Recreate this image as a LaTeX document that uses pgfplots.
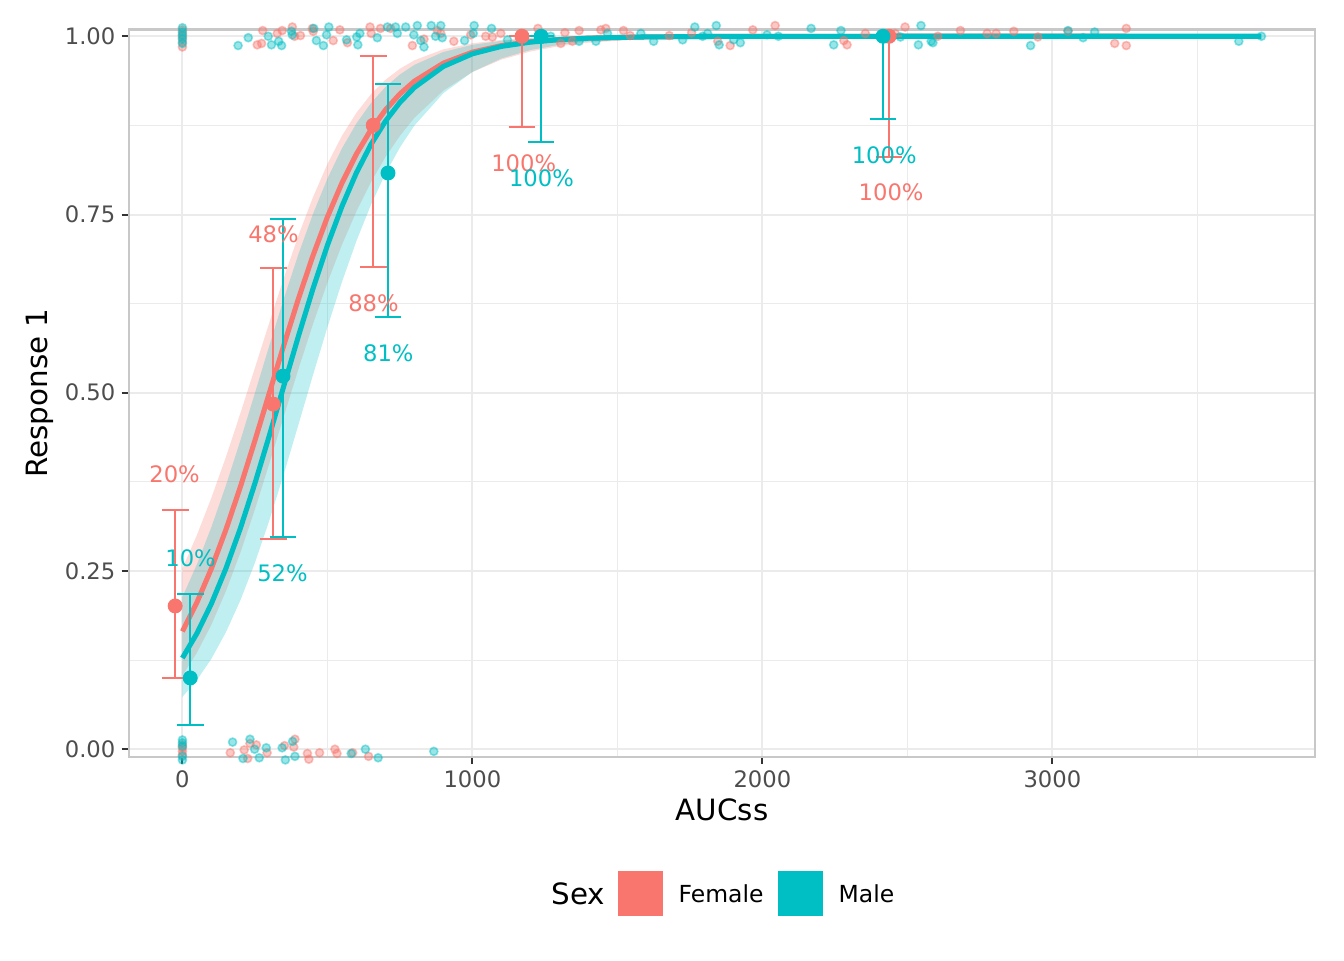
\documentclass[border=0pt]{standalone}
\usepackage{pgfplots}
\pgfplotsset{compat=1.18}
\usepackage{pgfplotstable}
\usepgfplotslibrary{fillbetween}
\usepackage{fontspec}
\setmainfont{DejaVu Sans}
\definecolor{fem}{HTML}{F8766D}
\definecolor{mal}{HTML}{00BFC4}
\definecolor{gridmaj}{HTML}{EBEBEB}
\definecolor{bord}{HTML}{C8C8C8}
\definecolor{tickc}{HTML}{333333}
\definecolor{labc}{HTML}{4D4D4D}

\pgfplotstableread{
x p lo hi
0 0.1652 0.1034 0.2535
50 0.2059 0.1353 0.3005
100 0.2535 0.1747 0.3527
150 0.3079 0.2217 0.4100
200 0.3682 0.2759 0.4713
250 0.4329 0.3363 0.5349
300 0.5000 0.4011 0.5989
350 0.5671 0.4675 0.6615
400 0.6318 0.5332 0.7205
450 0.6921 0.5960 0.7740
500 0.7465 0.6544 0.8208
550 0.7941 0.7074 0.8603
600 0.8348 0.7544 0.8926
650 0.8688 0.7953 0.9186
700 0.8966 0.8305 0.9389
750 0.9191 0.8604 0.9544
800 0.9370 0.8856 0.9663
900 0.9623 0.9239 0.9817
1000 0.9777 0.9498 0.9902
1100 0.9869 0.9672 0.9948
1200 0.9923 0.9786 0.9973
1300 0.9955 0.9861 0.9986
1400 0.9974 0.9910 0.9993
1600 0.9991 0.9962 0.9998
1800 0.9997 0.9984 1.0000
2000 0.9999 0.9993 1.0000
2500 1.0000 0.9999 1.0000
3255 1.0000 1.0000 1.0000
}\femfit

\pgfplotstableread{
x p lo hi
0 0.1279 0.0734 0.2135
50 0.1625 0.0970 0.2594
100 0.2042 0.1270 0.3117
150 0.2535 0.1641 0.3700
200 0.3100 0.2090 0.4332
250 0.3729 0.2615 0.4995
300 0.4403 0.3212 0.5666
350 0.5100 0.3865 0.6323
400 0.5793 0.4551 0.6943
450 0.6457 0.5245 0.7506
500 0.7068 0.5919 0.8003
550 0.7613 0.6552 0.8426
600 0.8085 0.7128 0.8777
650 0.8481 0.7635 0.9062
700 0.8808 0.8072 0.9288
750 0.9072 0.8441 0.9464
800 0.9282 0.8748 0.9599
900 0.9577 0.9203 0.9780
1000 0.9754 0.9500 0.9880
1100 0.9858 0.9689 0.9936
1200 0.9918 0.9807 0.9970
1300 0.9953 0.9880 0.9986
1400 0.9973 0.9926 0.9994
1600 0.9991 0.9971 0.9999
1800 0.9997 0.9989 1.0000
2000 0.9999 0.9996 1.0000
2500 1.0000 1.0000 1.0000
3721 1.0000 1.0000 1.0000
}\malfit

\begin{document}
\begin{tikzpicture}
\path (-48.4pt,-76.24pt) rectangle (455.6pt,283.76pt);
\begin{axis}[
  at={(0,0)}, anchor=south west,
  scale only axis, width=444.75pt, height=272.7pt,
  xmin=-184, xmax=3906, ymin=-0.0105, ymax=1.0095,
  clip=false,
  xtick={0,1000,2000,3000}, xticklabels={0,1000,2000,3000},
  ytick={0,0.25,0.5,0.75,1}, yticklabels={0.00,0.25,0.50,0.75,1.00},
  minor xtick={500,1500,2500,3500},
  minor ytick={0.125,0.375,0.625,0.875},
  grid=both,
  major grid style={gridmaj, line width=0.75pt},
  minor grid style={gridmaj, line width=0.4pt},
  tick align=outside, major tick length=2.75pt, minor tick length=0pt,
  tick pos=left,
  tick style={tickc, line width=0.75pt},
  axis line style={bord, line width=0.9pt},
  ticklabel style={font=\fontsize{8.5}{10}\selectfont, text=labc, inner sep=0pt},
  xticklabel style={yshift=-2.4pt},
  yticklabel style={xshift=-2.2pt},
  /pgf/number format/assume math mode=true,
]
% ribbons
\addplot[name path=fu, draw=none, forget plot] table[x=x,y=hi]{\femfit};
\addplot[name path=fl, draw=none, forget plot] table[x=x,y=lo]{\femfit};
\addplot[fill=fem, fill opacity=0.25, draw=none, forget plot] fill between[of=fu and fl];
\addplot[name path=mu, draw=none, forget plot] table[x=x,y=hi]{\malfit};
\addplot[name path=ml, draw=none, forget plot] table[x=x,y=lo]{\malfit};
\addplot[fill=mal, fill opacity=0.25, draw=none, forget plot] fill between[of=mu and ml];
% fitted lines
\addplot[fem, line width=1.9pt, forget plot] table[x=x,y=p]{\femfit};
\addplot[mal, line width=1.9pt, forget plot] table[x=x,y=p]{\malfit};
% jittered observations
\addplot[only marks, mark=*, mark size=1.5pt, fem, mark options={fill=fem, draw=fem, fill opacity=0.4, draw opacity=0.45, line width=0.6pt}] coordinates {
(0,0.985)(0,0.992)(0,0.998)(0,1.003)(0,1.009)
(258,0.988)(273,0.990)(277,1.008)(327,1.004)(344,1.008)(379,1.013)(387,1.000)(407,1.001)(448,1.011)(451,1.007)(520,0.994)(543,1.009)(569,0.991)(647,1.013)(651,1.004)(683,1.011)(718,1.011)(793,0.987)(833,0.996)(879,1.008)(891,1.004)(936,0.993)(994,1.002)(1046,1.000)(1069,0.999)(1098,1.004)(1167,1.004)(1226,1.011)(1305,0.990)(1319,1.005)(1345,0.993)(1368,1.008)(1443,1.009)(1460,1.011)(1521,1.008)(1544,1.001)(1679,1.001)(1756,1.005)(1846,0.993)(1889,0.987)(1967,1.009)(2044,1.015)(2281,0.994)(2292,0.988)(2355,1.004)(2458,1.004)(2492,1.013)(2605,1.000)(2683,1.008)(2775,1.004)(2806,1.004)(2867,1.007)(2950,0.999)(3054,1.007)(3215,0.990)(3255,1.011)(3255,0.987)
(0,-0.008)(0,-0.003)(0,0.002)(0,0.006)
(165,-0.005)(213,-0.001)(225,-0.013)(233,0.008)(255,0.006)(292,-0.005)(352,0.005)(384,0.003)(388,0.014)(431,-0.006)(436,-0.014)(473,-0.005)(526,0.000)(533,-0.006)(587,-0.005)(642,-0.010)
};
\addplot[only marks, mark=*, mark size=1.5pt, mal, mark options={fill=mal, draw=mal, fill opacity=0.4, draw opacity=0.45, line width=0.6pt}] coordinates {
(0,0.990)(0,0.996)(0,1.001)(0,1.006)(0,1.012)
(192,0.987)(227,0.998)(296,1.000)(307,0.988)(332,0.993)(342,0.987)(376,1.007)(379,1.002)(453,1.011)(462,0.994)(486,0.987)(497,1.002)(505,1.013)(566,0.995)(601,0.999)(605,0.988)(612,1.004)(672,0.998)(707,1.013)(735,1.013)(741,1.004)(770,1.013)(798,1.002)(810,1.015)(822,0.994)(833,0.985)(858,1.015)(873,1.000)(891,1.015)(896,0.998)(973,0.994)(1003,1.004)(1006,1.015)(1066,1.011)(1121,0.995)(1270,1.000)(1368,0.993)(1426,0.993)(1466,1.004)(1581,1.004)(1625,0.993)(1725,0.995)(1767,1.013)(1794,1.000)(1811,1.004)(1841,1.015)(1851,0.988)(1901,0.995)(1924,0.991)(2016,1.002)(2055,1.000)(2168,1.011)(2246,0.988)(2271,1.008)(2412,1.000)(2476,0.999)(2538,0.988)(2547,1.015)(2582,0.993)(2588,0.991)(2925,0.987)(3054,1.008)(3106,0.998)(3146,1.006)(3643,0.993)(3721,1.000)
(0,-0.015)(0,-0.010)(0,0.004)(0,0.009)(0,0.013)
(173,0.010)(209,-0.013)(233,0.014)(249,0.000)(265,-0.012)(289,0.002)(344,0.002)(355,-0.015)(380,0.011)(388,-0.010)(582,-0.006)(631,0.000)(675,-0.012)(867,-0.003)
};
% error bars (observed proportions, 95% CI)
\addplot[fem, line width=0.75pt, unbounded coords=jump] coordinates {
(-25,0.1000)(-25,0.3355)(0,nan)(-71,0.1000)(21,0.1000)(0,nan)(-71,0.3355)(21,0.3355)(0,nan)
(313,0.2948)(313,0.6748)(0,nan)(267,0.2948)(359,0.2948)(0,nan)(267,0.6748)(359,0.6748)(0,nan)
(658,0.6762)(658,0.9720)(0,nan)(612,0.6762)(704,0.6762)(0,nan)(612,0.9720)(704,0.9720)(0,nan)
(1171,0.8725)(1171,1.0000)(0,nan)(1125,0.8725)(1217,0.8725)(0,nan)(1125,1.0000)(1217,1.0000)(0,nan)
(2437,0.8304)(2437,1.0000)(0,nan)(2391,0.8304)(2483,0.8304)(0,nan)(2391,1.0000)(2483,1.0000)
};
\addplot[mal, line width=0.75pt, unbounded coords=jump] coordinates {
(27,0.0341)(27,0.2177)(0,nan)(-19,0.0341)(73,0.0341)(0,nan)(-19,0.2177)(73,0.2177)(0,nan)
(347,0.2976)(347,0.7435)(0,nan)(301,0.2976)(393,0.2976)(0,nan)(301,0.7435)(393,0.7435)(0,nan)
(709,0.6061)(709,0.9327)(0,nan)(663,0.6061)(755,0.6061)(0,nan)(663,0.9327)(755,0.9327)(0,nan)
(1237,0.8517)(1237,1.0000)(0,nan)(1191,0.8517)(1283,0.8517)(0,nan)(1191,1.0000)(1283,1.0000)(0,nan)
(2416,0.8836)(2416,1.0000)(0,nan)(2370,0.8836)(2462,0.8836)(0,nan)(2370,1.0000)(2462,1.0000)
};
% observed proportions
\addplot[only marks, mark=*, mark size=2.6pt, fem, mark options={fill=fem, draw=fem}] coordinates {
(-25,0.2009)(313,0.4841)(658,0.8752)(1171,1.0000)(2437,1.0000)};
\addplot[only marks, mark=*, mark size=2.6pt, mal, mark options={fill=mal, draw=mal}] coordinates {
(27,0.1000)(347,0.5233)(709,0.8082)(1237,1.0000)(2416,1.0000)};
% percentage labels
\begin{scope}[every node/.style={font=\fontsize{8.5}{10}\selectfont, inner sep=0pt}]
\node[text=fem] at (axis cs:-27,0.386) {20\%};
\node[text=fem] at (axis cs:314,0.722) {48\%};
\node[text=fem] at (axis cs:659,0.6255) {88\%};
\node[text=fem] at (axis cs:1177,0.822) {100\%};
\node[text=fem] at (axis cs:2444,0.781) {100\%};
\node[text=mal] at (axis cs:28,0.268) {10\%};
\node[text=mal] at (axis cs:345,0.247) {52\%};
\node[text=mal] at (axis cs:710,0.555) {81\%};
\node[text=mal] at (axis cs:1238,0.801) {100\%};
\node[text=mal] at (axis cs:2420,0.833) {100\%};
\end{scope}
\end{axis}
% axis titles
\node[font=\fontsize{11}{13}\selectfont] at (222.4pt,-20pt) {AUCss};
\node[font=\fontsize{11}{13}\selectfont, rotate=90] at (-33.4pt,136.35pt) {Response 1};
% legend
\node[font=\fontsize{11}{13}\selectfont, anchor=west, inner sep=0pt] at (158.2pt,-51.3pt) {Sex};
\fill[fem] (183.4pt,-42.85pt) rectangle (200.2pt,-59.75pt);
\fill[mal] (243.4pt,-42.85pt) rectangle (260.2pt,-59.75pt);
\node[font=\fontsize{8.8}{10}\selectfont, anchor=west, inner sep=0pt] at (205.9pt,-51.3pt) {Female};
\node[font=\fontsize{8.8}{10}\selectfont, anchor=west, inner sep=0pt] at (265.9pt,-51.3pt) {Male};
\end{tikzpicture}
\end{document}
